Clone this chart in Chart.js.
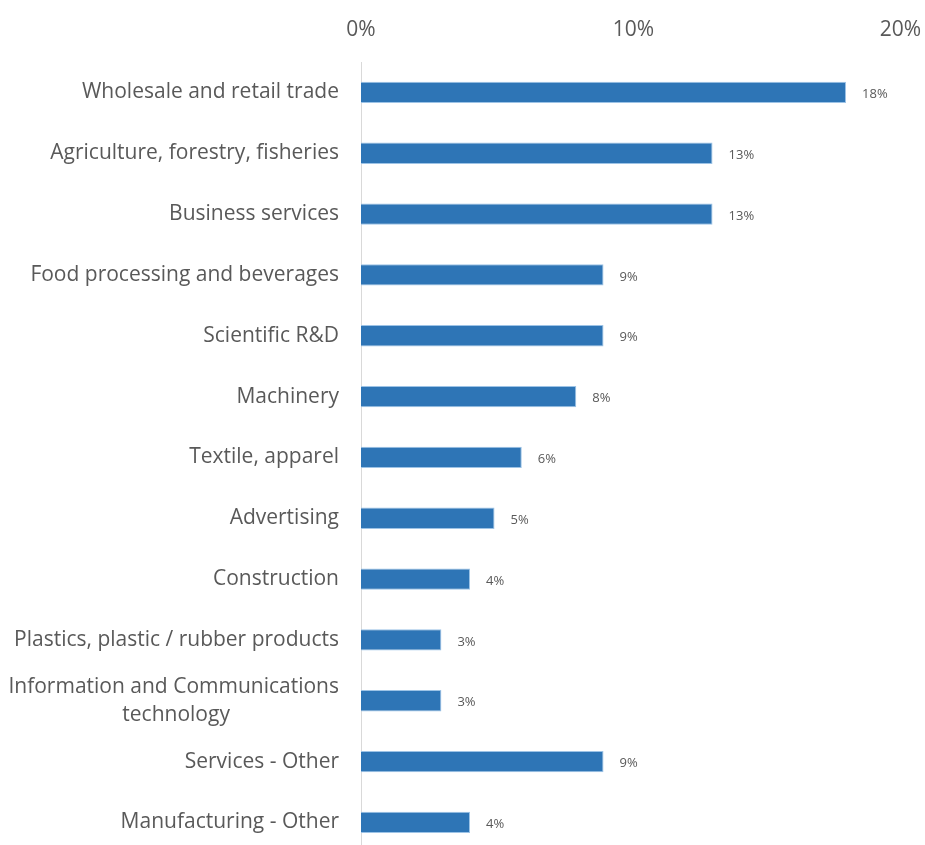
<!DOCTYPE html>
<html>
<head>
<meta charset="utf-8">
<script src="https://cdn.jsdelivr.net/npm/chart.js@4"></script>
<style>
  html, body { margin: 0; padding: 0; background: #fff; overflow: hidden; }
  #wrap { width: 925px; height: 889px; }
</style>
</head>
<body>
<div id="wrap"><canvas id="myChart"></canvas></div>
<script>
"use strict"
let sectors = ['Wholesale and retail trade', 'Agriculture, forestry, fisheries', 'Business services',
    'Food processing and beverages', 'Scientific R&D', 'Machinery', 'Textile, apparel', 'Advertising',
    'Construction', 'Plastics, plastic / rubber products',
    ['Information and Communications', 'technology                    '],
    'Services - Other', 'Manufacturing - Other'];
let shares = [17.8, 12.9, 12.9, 8.9, 8.9, 7.9, 5.9, 4.9, 4.0, 2.95, 2.95, 8.9, 4.0];
let axisTicks = [0, 10, 20];

const textFont = "'Open Sans', 'Noto Sans', sans-serif";

// writes the rounded share next to the end of each bar
const barValues = {
    id: 'barValues',
    afterDatasetsDraw(chart) {
        let ctx = chart.ctx;
        let meta = chart.getDatasetMeta(0);
        ctx.save();
        ctx.font = '13px ' + textFont;
        ctx.fillStyle = '#595959';
        ctx.textAlign = 'left';
        ctx.textBaseline = 'middle';
        meta.data.forEach((bar, i) => {
            ctx.fillText(Math.round(shares[i]) + '%', bar.x + 16, bar.y + 2);
        });
        ctx.restore();
    }
};

var ctx = document.getElementById('myChart').getContext('2d');
var myChart = new Chart(ctx, {
    type: 'bar',
    data: {
        labels: sectors,
        datasets: [{
            data: shares,
            backgroundColor: '#2E75B6',
            borderColor: '#9DC3E6',
            borderWidth: 1,
            barPercentage: 0.7,
            categoryPercentage: 0.5
        }]
    },
    options: {
        indexAxis: 'y',
        responsive: true,
        maintainAspectRatio: false,
        animation: false,
        layout: { padding: { left: 0, right: 19, top: 0, bottom: 0 } },
        plugins: {
            legend: { display: false },
            tooltip: { enabled: false }
        },
        scales: {
            x: {
                position: 'top',
                min: 0,
                max: 20,
                afterBuildTicks: scale => { scale.ticks = axisTicks.map(v => ({ value: v })); },
                afterFit: scale => {
                    scale.height = 62;
                    scale.paddingLeft = 0;
                    scale.paddingRight = 0;
                },
                grid: { display: false, drawTicks: false },
                border: { display: false },
                ticks: {
                    padding: 19,
                    color: '#595959',
                    font: { family: textFont, size: 21 },
                    // trailing spaces nudge the last label inside the canvas
                    callback: v => v + '%' + (v === axisTicks[axisTicks.length - 1] ? '  ' : '')
                }
            },
            y: {
                afterFit: scale => { scale.width = 361; },
                grid: { display: false, drawTicks: false },
                border: { display: true, color: '#D9D9D9', width: 1 },
                ticks: {
                    padding: 22,
                    color: '#595959',
                    font: { family: textFont, size: 21, lineHeight: 1.35 }
                }
            }
        }
    },
    plugins: [barValues]
});
</script>
</body>
</html>
